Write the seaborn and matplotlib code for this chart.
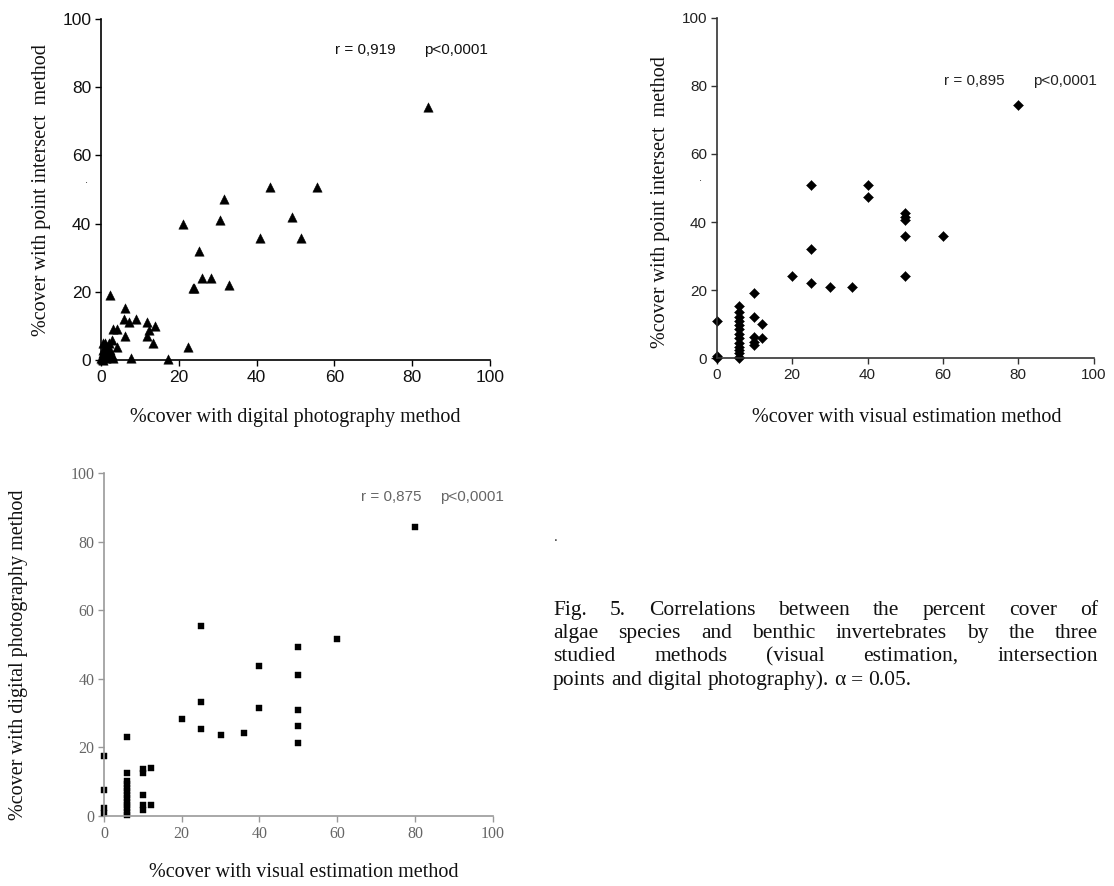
import matplotlib
matplotlib.use("Agg")
import matplotlib.pyplot as plt
import seaborn as sns
import pandas as pd

# ---------------- data ----------------
# Panel A: digital photography (x) vs point intersect (y)
photo_x1 = [84.1, 43.5, 55.4, 31.5, 21.1, 30.5, 49.1, 40.8, 51.5, 25.3, 25.9, 28.2, 23.6, 23.9,
            32.9, 22.4, 17.3, 2.2, 6.2, 5.8, 7.3, 9.0, 6.2, 7.7, 11.8, 12.4, 11.8, 13.9, 13.4,
            3.2, 4.0, 2.8, 4.0, 0.0, 0.4, 1.3, 2.1, 1.7, 0.9, 2.6, 3.0, 0.2, 1.3, 0.4,
            1.0, 2.3, 0.4, 2.7, 1.4, 0.4]
pint_y1 = [74.3, 50.8, 50.8, 47.1, 40.0, 41.0, 42.0, 35.9, 35.9, 31.9, 24.1, 24.1, 21.1, 21.1,
           22.1, 3.9, 0.2, 19.0, 15.2, 12.1, 11.0, 12.1, 6.9, 0.7, 11.2, 8.8, 6.9, 10.0, 4.9,
           9.0, 9.0, 5.9, 3.9, 0.5, 4.9, 3.9, 4.9, 2.5, 2.0, 1.5, 0.5, 0.2, 1.0, 3.0,
           4.9, 3.0, 2.0, 1.5, 0.5, 0.1]

# Panel B: visual estimation (x) vs point intersect (y)
visual_x2 = [80, 25, 40, 40, 50, 50, 50, 50, 60, 25, 20, 25, 30, 36, 50, 12, 12,
             0, 0, 0,
             6, 6, 6, 6, 6, 6, 6, 6, 6, 6, 6, 6, 6, 6,
             10, 10, 10, 10, 10]
pint_y2 = [74.4, 50.9, 50.9, 47.4, 42.5, 41.5, 40.6, 36.0, 36.0, 32.1, 24.1, 22.0, 21.0, 21.0, 24.1, 10.0, 5.8,
           11.0, 0.6, 0.0,
           15.3, 13.6, 12.1, 11.0, 9.7, 8.4, 7.1, 5.8, 4.5, 3.3, 2.4, 1.4, 0.4, 0.0,
           19.0, 12.1, 6.3, 4.8, 3.8]

# Panel C: visual estimation (x) vs digital photography (y)
visual_x3 = [80, 25, 60, 50, 40, 50, 25, 40, 50, 20, 25, 50, 30, 36, 50,
             6, 0, 6, 0, 0, 0,
             6, 6, 6, 6, 6, 6, 6, 6, 6, 6, 6,
             10, 10, 12, 10, 10, 10, 12]
photo_y3 = [84.2, 55.5, 51.6, 49.2, 43.6, 41.0, 33.2, 31.6, 30.8, 28.2, 25.5, 26.3, 23.6, 24.3, 21.4,
            23.0, 17.5, 12.6, 7.5, 2.2, 0.8,
            10.2, 9.2, 8.2, 7.2, 6.2, 5.2, 4.2, 3.2, 2.2, 1.2, 0.2,
            13.6, 12.5, 14.1, 6.1, 3.2, 1.8, 3.1]

ticks = [0, 20, 40, 60, 80, 100]
stats = [("r = 0,919", "p<0,0001"), ("r = 0,895", "p<0,0001"), ("r = 0,875", "p<0,0001")]
xlabels = ["%cover with digital photography method",
           "%cover with visual estimation method",
           "%cover with visual estimation method"]
ylabels = ["%cover with point intersect  method",
           "%cover with point intersect  method",
           "%cover with digital photography method"]
caption_lines = ["Fig. 5. Correlations between the percent cover of",
                 "algae species and benthic invertebrates by the three",
                 "studied methods (visual estimation, intersection",
                 "points and digital photography). \u03b1 = 0.05."]

# ---------------- figure ----------------
sns.set_style("ticks")
plt.rcParams["font.family"] = ["Liberation Sans", "DejaVu Sans"]

W, H = 1114, 886
fig = plt.figure(figsize=(W / 100, H / 100), dpi=100)


def px_axes(x0, x1, y0, y1):
    # x0,x1 = pixel x of data 0 and 100 ; y0,y1 = pixel y of data 0 and 100
    return fig.add_axes([x0 / W, 1 - y0 / H, (x1 - x0) / W, (y0 - y1) / H])


ax1 = px_axes(101, 490, 360, 19)
ax2 = px_axes(716.7, 1093.7, 358, 18)
ax3 = px_axes(104, 492.7, 816, 473)

df1 = pd.DataFrame({"x": photo_x1, "y": pint_y1})
df2 = pd.DataFrame({"x": visual_x2, "y": pint_y2})
df3 = pd.DataFrame({"x": visual_x3, "y": photo_y3})

sns.scatterplot(data=df1, x="x", y="y", ax=ax1, marker="^", s=46, color="black",
                edgecolor="black", linewidth=0.3, clip_on=False)
sns.scatterplot(data=df2, x="x", y="y", ax=ax2, marker="D", s=26, color="black",
                edgecolor="black", linewidth=0.3, clip_on=False)
sns.scatterplot(data=df3, x="x", y="y", ax=ax3, marker="s", s=21, color="black",
                edgecolor="black", linewidth=0.3, clip_on=False)

spine_col = ["black", "#333333", "#999999"]
tick_col = ["#111111", "#222222", "#666666"]
tick_fs = [12.5, 11, 11.5]
tick_fam = [["Liberation Sans"], ["Liberation Sans"], ["Liberation Serif"]]

for i, ax in enumerate([ax1, ax2, ax3]):
    ax.set_xlim(0, 100)
    ax.set_ylim(0, 100)
    ax.set_xticks(ticks)
    ax.set_yticks(ticks)
    sns.despine(ax=ax)
    for s in ["left", "bottom"]:
        ax.spines[s].set_color(spine_col[i])
        ax.spines[s].set_linewidth(1.2)
    ax.tick_params(direction="out", length=4, width=1, color=spine_col[i],
                   labelcolor=tick_col[i], labelsize=tick_fs[i], pad=3)
    for lab in ax.get_xticklabels() + ax.get_yticklabels():
        lab.set_family(tick_fam[i])
    ax.set_xlabel(xlabels[i], family=["Liberation Serif"], fontsize=14.5, color="#111111")
    ax.set_ylabel(ylabels[i], family=["Liberation Serif"], fontsize=14.5, color="#111111")
    ax.xaxis.label.set_va("center")
    ax.yaxis.label.set_va("center")

ax1.xaxis.set_label_coords(0.50, -0.170)
ax1.yaxis.set_label_coords(-0.152, 0.499)
ax2.xaxis.set_label_coords(0.505, -0.176)
ax2.yaxis.set_label_coords(-0.150, 0.459)
ax3.xaxis.set_label_coords(0.513, -0.166)
ax3.yaxis.set_label_coords(-0.221, 0.469)

stat_pos = [(60.2, 83.0, 90.9), (60.3, 83.9, 81.5), (66.1, 86.4, 93.0)]
stat_col = ["#111111", "#222222", "#666666"]
for ax, (r, p), (xr, xp, yy), c in zip([ax1, ax2, ax3], stats, stat_pos, stat_col):
    ax.text(xr, yy, r, fontsize=11, va="center", ha="left", color=c)
    ax.text(xp, yy, p, fontsize=11, va="center", ha="left", color=c)

# stray dots from the original scan
fig.text(86 / W, 1 - 183 / H, ".", fontsize=8, ha="center", va="baseline")
fig.text(701 / W, 1 - 181 / H, ".", fontsize=8, ha="center", va="baseline")
fig.text(556 / W, 1 - 541 / H, ".", fontsize=10, ha="center", va="baseline")

# ---------------- justified caption ----------------
renderer = fig.canvas.get_renderer()
cap_left, cap_right = 553, 1098
baselines = [615, 638, 661, 685]
cap_fs = 15.5
for li, (line, base) in enumerate(zip(caption_lines, baselines)):
    words = line.split(" ")
    texts = []
    widths = []
    for w in words:
        t = fig.text(0, 1 - base / H, w, fontsize=cap_fs, family=["Liberation Serif", "DejaVu Serif"],
                     ha="left", va="baseline", color="#111111")
        texts.append(t)
        widths.append(t.get_window_extent(renderer).width)
    if li < len(caption_lines) - 1:
        gap = (cap_right - cap_left - sum(widths)) / (len(words) - 1)
    else:
        sp = fig.text(0, 0, "a a", fontsize=cap_fs, family=["Liberation Serif"])
        sp2 = fig.text(0, 0, "aa", fontsize=cap_fs, family=["Liberation Serif"])
        gap = sp.get_window_extent(renderer).width - sp2.get_window_extent(renderer).width
        sp.remove()
        sp2.remove()
    x = cap_left
    for t, w in zip(texts, widths):
        t.set_x(x / W)
        x += w + gap

fig.savefig("out.png", dpi=100)
